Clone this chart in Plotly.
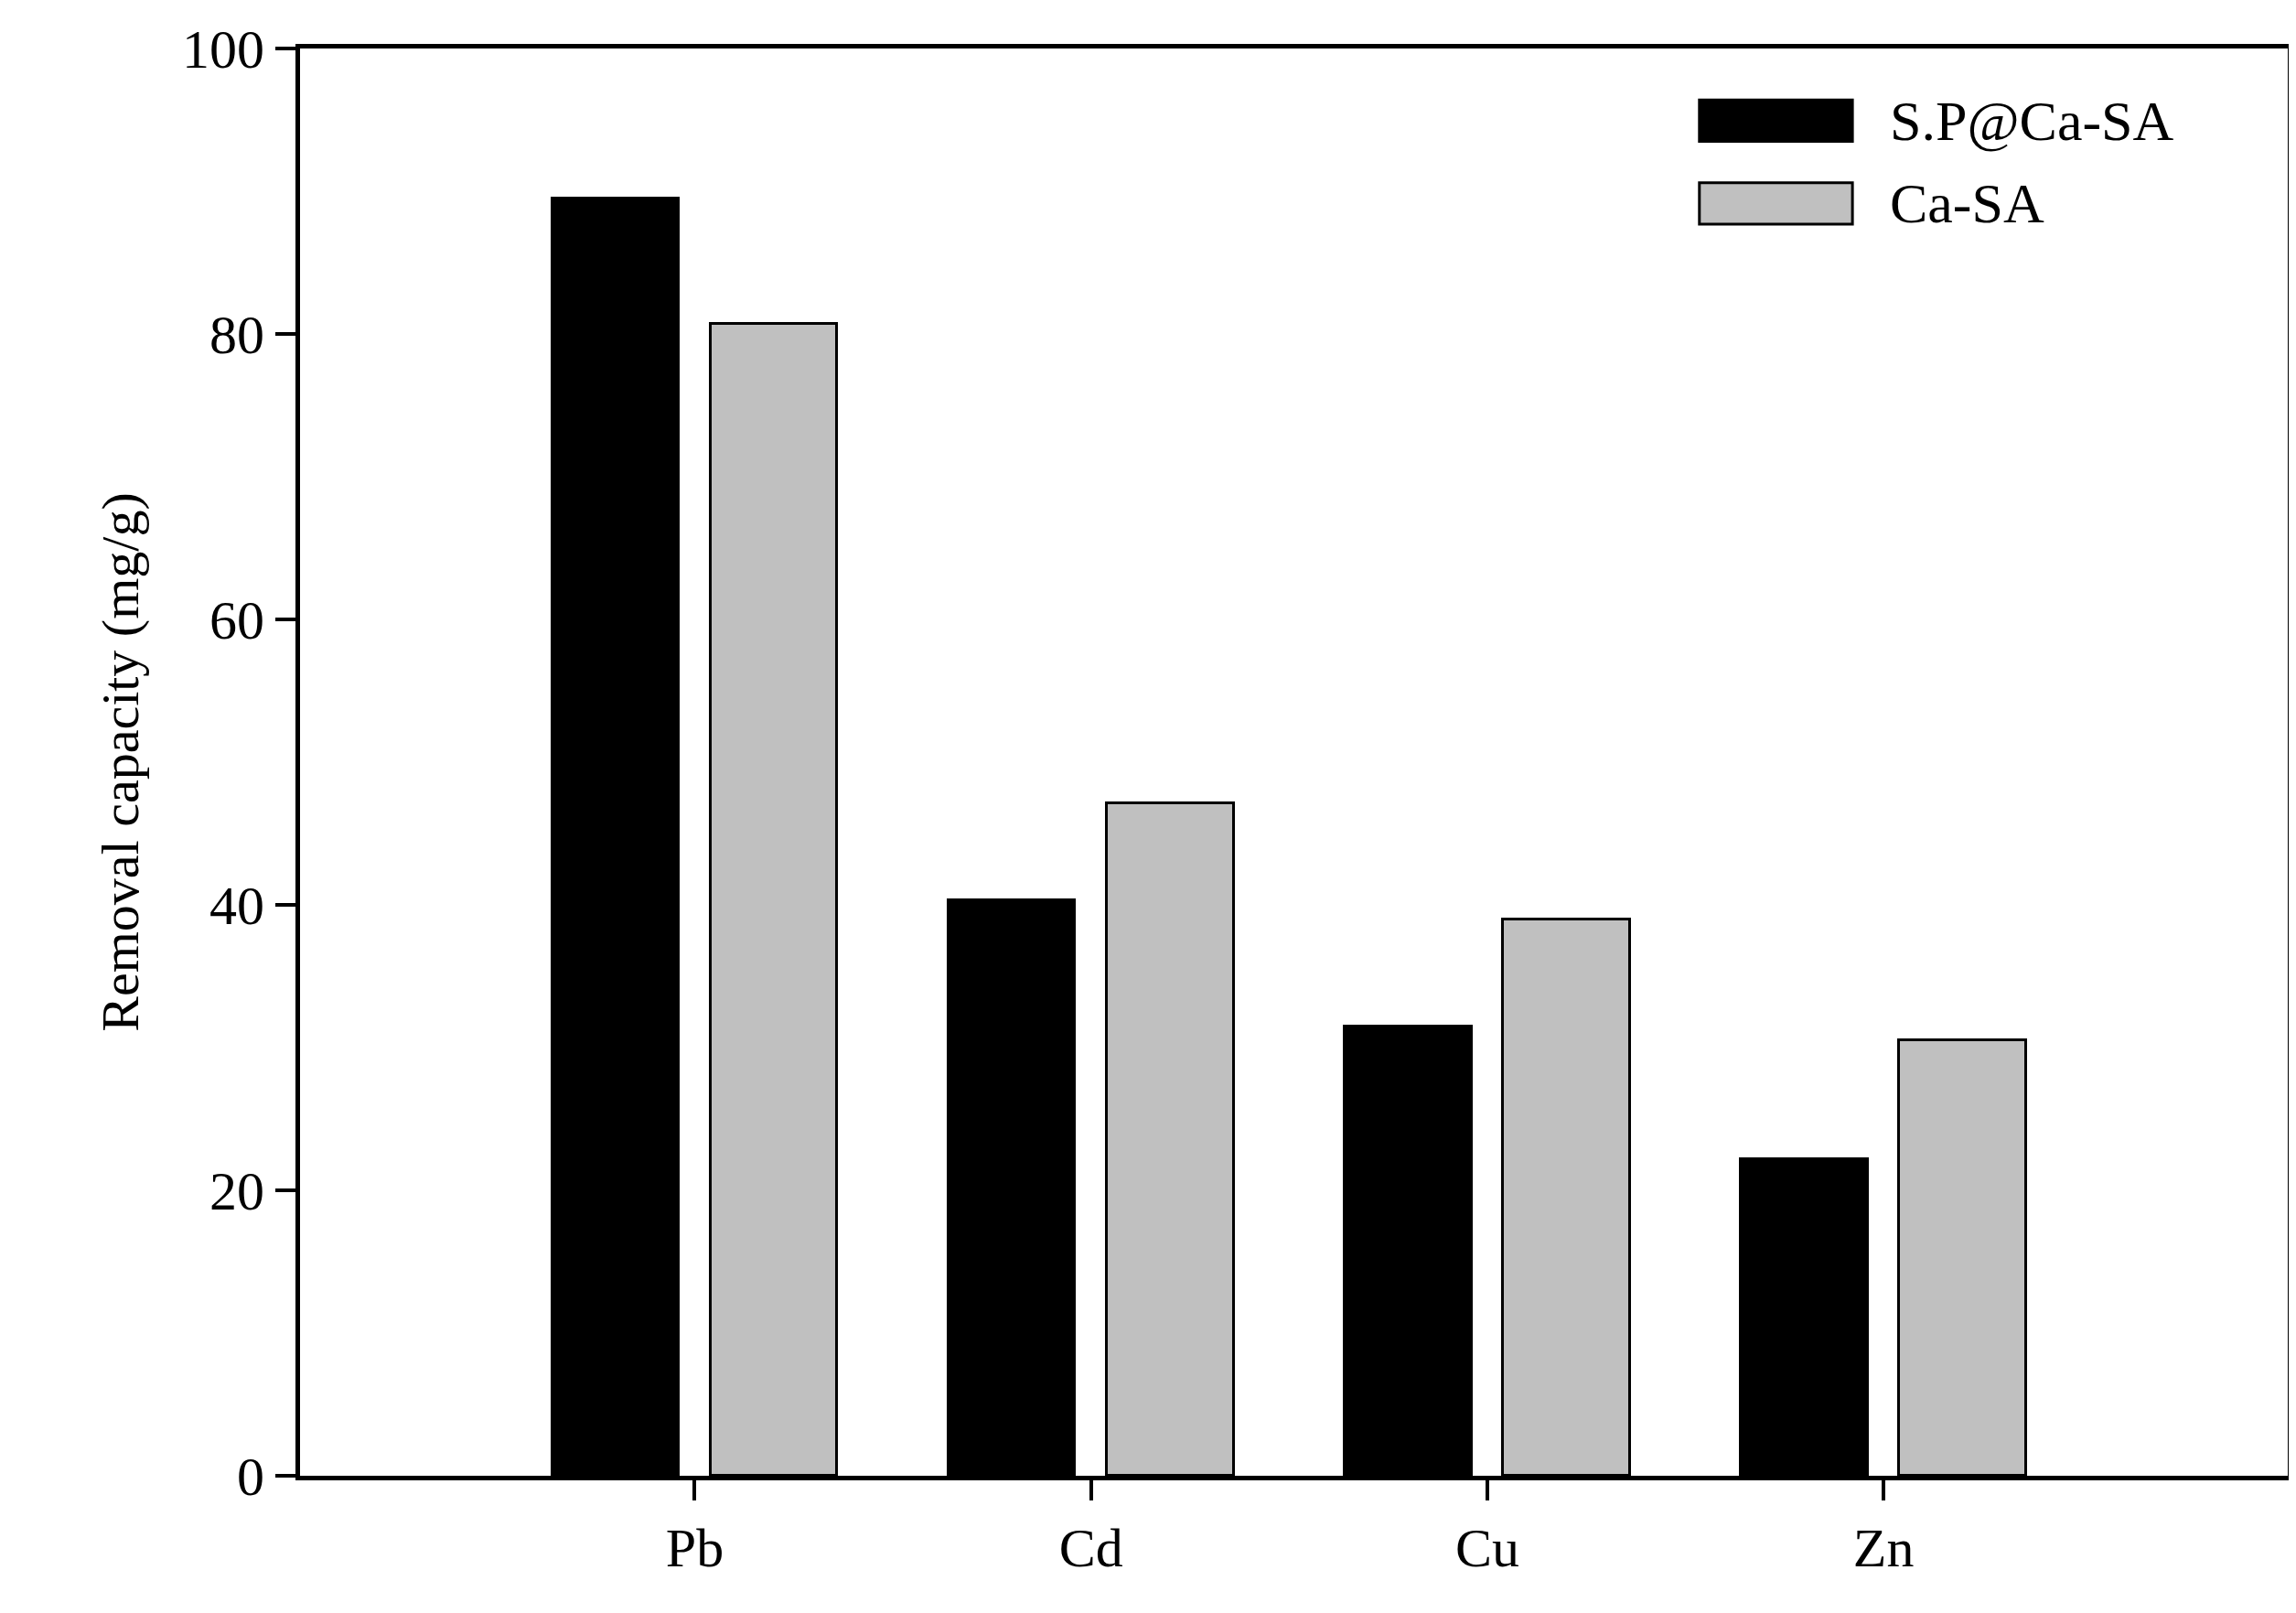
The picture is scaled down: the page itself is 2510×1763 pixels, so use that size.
import plotly.graph_objects as go

metals = ["Pb", "Cd", "Cu", "Zn"]
sp_ca_sa = [89.5, 40.3, 31.5, 22.2]
ca_sa = [80.7, 47.1, 39.0, 30.5]
series_names = ["S.P@Ca-SA", "Ca-SA"]
colors = ["#000000", "#c0c0c0"]

pos = list(range(len(metals)))
F = "Liberation Serif"

fig = go.Figure()
fig.add_trace(go.Bar(x=pos, y=sp_ca_sa, width=0.32, offset=-0.36, name=series_names[0],
                     marker=dict(color=colors[0], line=dict(color="black", width=3)), showlegend=False))
fig.add_trace(go.Bar(x=pos, y=ca_sa, width=0.32, offset=0.04, name=series_names[1],
                     marker=dict(color=colors[1], line=dict(color="black", width=3)), showlegend=False))

# legend swatches
for i, (nm, c) in enumerate(zip(series_names, colors)):
    y1 = 0.964 - i * 0.058
    fig.add_shape(type="rect", xref="paper", yref="paper", x0=0.704, x1=0.781, y0=y1 - 0.029, y1=y1,
                  fillcolor=c, line=dict(color="black", width=3))
    fig.add_annotation(xref="paper", yref="paper", x=0.799, y=y1 - 0.0145, text=nm, showarrow=False,
                       xanchor="left", yanchor="middle", font=dict(family=F, size=62, color="black"))

ax = dict(showline=True, linecolor="black", linewidth=5, mirror=True, ticks="outside",
          ticklen=22, tickwidth=4, tickcolor="black", showgrid=False, zeroline=False,
          tickfont=dict(family=F, size=60, color="black"))
fig.update_xaxes(**ax, range=[-0.996, 4.02], tickvals=pos, ticktext=metals)
fig.update_yaxes(**ax, range=[0, 100], tickvals=[0, 20, 40, 60, 80, 100],
                 title=dict(text="Removal capacity (mg/g)", font=dict(family=F, size=58, color="black"), standoff=30))
fig.update_layout(width=2510, height=1763, plot_bgcolor="white", paper_bgcolor="white",
                  margin=dict(l=320, r=14, t=45, b=158), bargap=0)
fig.write_html("out.html")
